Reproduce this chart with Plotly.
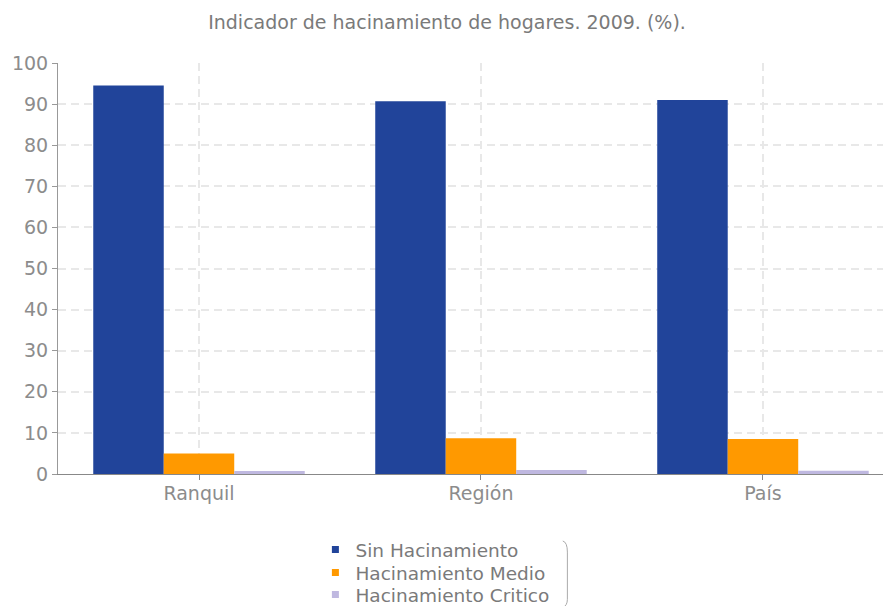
import plotly.graph_objects as go

categories = ["Ranquil", "Región", "País"]
sin_hacinamiento = [94.5, 90.7, 91.0]
hacinamiento_medio = [5.0, 8.7, 8.5]
hacinamiento_critico = [0.7, 1.0, 0.8]
series_names = ["Sin Hacinamiento", "Hacinamiento Medio", "Hacinamiento Critico"]
series_colors = ["#21449A", "#FF9900", "#BFB8E0"]
y_ticks = [0, 10, 20, 30, 40, 50, 60, 70, 80, 90, 100]

FONT = "DejaVu Sans"
fig = go.Figure()
for name, vals, col in zip(series_names,
                           [sin_hacinamiento, hacinamiento_medio, hacinamiento_critico],
                           series_colors):
    fig.add_trace(go.Bar(name=name, x=categories, y=vals, showlegend=False,
                         marker=dict(color=col, line=dict(width=0))))
# legend entries with small square markers, one legend per row
legend_ids = ["legend", "legend2", "legend3"]
legend_y = [0.1056, 0.0677, 0.0314]
for name, col, lid in zip(series_names, series_colors, legend_ids):
    fig.add_trace(go.Scatter(name=name, x=[None], y=[None], mode="markers",
                             marker=dict(symbol="square", size=7, color=col),
                             showlegend=True, legend=lid))

legend_common = dict(orientation="v", xref="container", x=0.345, xanchor="left",
                     yref="container", yanchor="middle",
                     font=dict(family=FONT, size=18.5, color="#7A7A7A"),
                     itemwidth=30, bgcolor="rgba(0,0,0,0)")

fig.update_layout(
    width=891, height=606,
    margin=dict(l=50, r=8, t=55, b=140, autoexpand=False),
    paper_bgcolor="white", plot_bgcolor="white",
    barmode="group", bargap=0.25, bargroupgap=0,
    title=dict(text="Indicador de hacinamiento de hogares. 2009. (%).",
               xref="container", x=0.4927, xanchor="center",
               yref="container", y=0.977, yanchor="middle",
               font=dict(family=FONT, size=19, color="#7A7A7A")),
    font=dict(family=FONT, color="#8C8C8C"),
    legend=dict(legend_common, y=legend_y[0]),
    legend2=dict(legend_common, y=legend_y[1]),
    legend3=dict(legend_common, y=legend_y[2]),
    showlegend=True,
    shapes=[dict(type="path", xref="paper", yref="paper",
                 path="M 0.606 -0.163 Q 0.6115 -0.166 0.6115 -0.19 L 0.6115 -0.305 Q 0.6115 -0.32 0.606 -0.325",
                 line=dict(color="#AAAAAA", width=1))],
)
fig.update_xaxes(
    range=[-0.5, 2.454], automargin=False,
    showline=True, linecolor="#888888", linewidth=1,
    showgrid=True, gridcolor="#E8E8E8", griddash="8px,5px", gridwidth=1.5,
    ticks="outside", ticklen=5, tickcolor="#888888",
    ticklabelstandoff=-3,
    tickfont=dict(family=FONT, size=19, color="#8C8C8C"),
)
fig.update_yaxes(
    range=[0, 100], tickvals=y_ticks, automargin=False,
    showline=True, linecolor="#999999", linewidth=1,
    showgrid=True, gridcolor="#E8E8E8", griddash="8px,5px", gridwidth=1.5,
    ticks="outside", ticklen=5, tickcolor="#999999",
    tickfont=dict(family=FONT, size=19, color="#8C8C8C"),
    zeroline=False,
)
fig.write_html("out.html")
